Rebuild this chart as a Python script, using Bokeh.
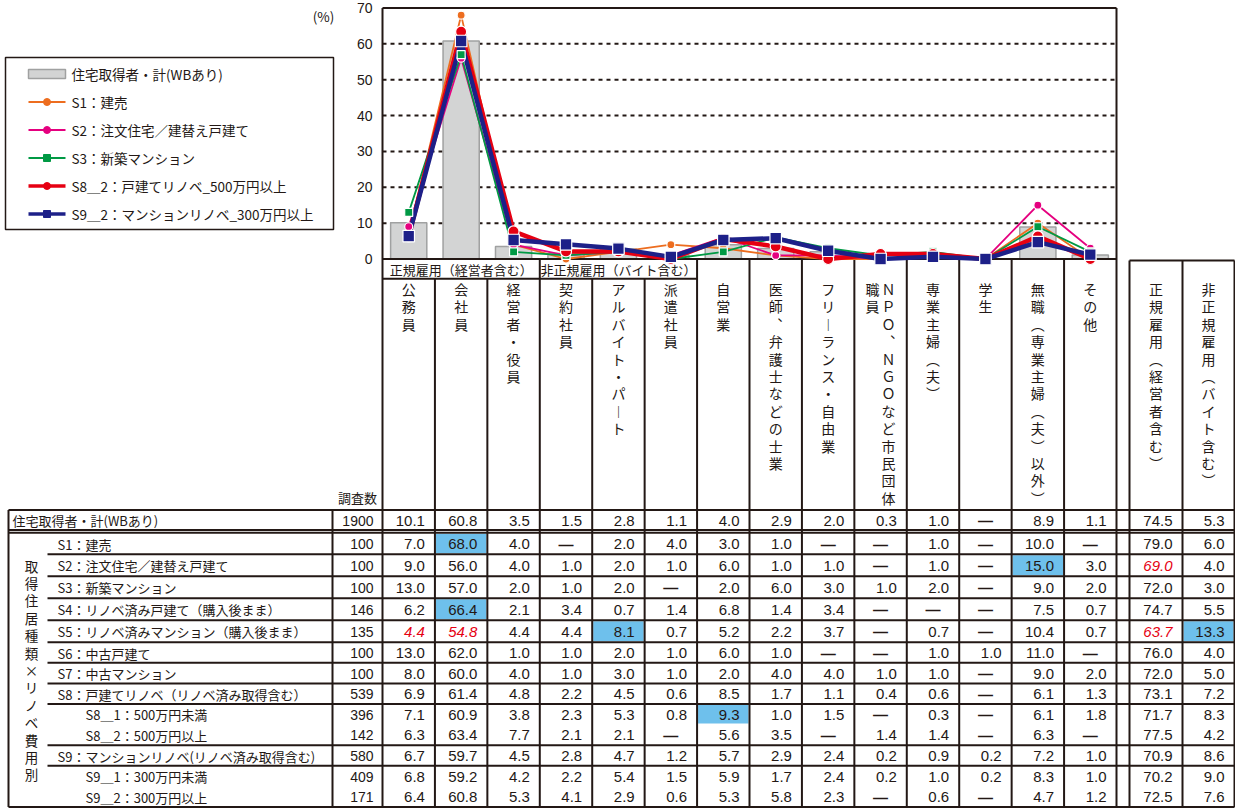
from bokeh.plotting import figure
from bokeh.models import Range1d
from bokeh.core.properties import value
from bokeh.embed import file_html
from bokeh.resources import INLINE

# ---------------------------------------------------------------- data
categories = ["公務員", "会社員", "経営者・役員", "契約社員", "アルバイト・パート", "派遣社員",
              "自営業", "医師、弁護士などの士業", "フリーランス・自由業", "NPO、NGOなど市民団体職員",
              "専業主婦(夫)", "学生", "無職(専業主婦(夫)以外)", "その他"]
summary_cols = ["正規雇用(経営者含む)", "非正規雇用(バイト含む)"]

# header captions written top-to-bottom (vertical presentation forms)
header_vertical = [["公務員"], ["会社員"], ["経営者・役員"], ["契約社員"], ["アルバイト・パ︱ト"],
                   ["派遣社員"], ["自営業"], ["医師︑弁護士などの士業"], ["フリ︱ランス・自由業"],
                   ["ＮＰＯ︑ＮＧＯなど市民団体", "職員"], ["専業主婦︵夫︶"], ["学生"],
                   ["無職︵専業主婦︵夫︶以外︶"], ["その他"],
                   ["正規雇用︵経営者含む︶"], ["非正規雇用︵バイト含む︶"]]

row_labels = ["住宅取得者・計(WBあり)", "S1：建売", "S2：注文住宅／建替え戸建て", "S3：新築マンション",
              "S4：リノベ済み戸建て（購入後まま）", "S5：リノベ済みマンション（購入後まま）",
              "S6：中古戸建て", "S7：中古マンション", "S8：戸建てリノベ（リノベ済み取得含む）",
              "S8＿1：500万円未満", "S8＿2：500万円以上", "S9：マンションリノベ(リノベ済み取得含む)",
              "S9＿1：300万円未満", "S9＿2：300万円以上"]
row_indent = [False, False, False, False, False, False, False, False, False, True, True, False, True, True]
n_counts = [1900, 100, 100, 100, 146, 135, 100, 100, 539, 396, 142, 580, 409, 171]

# None = "—" (no respondents); last two values are the summary columns
total = [10.1, 60.8, 3.5, 1.5, 2.8, 1.1, 4.0, 2.9, 2.0, 0.3, 1.0, None, 8.9, 1.1, 74.5, 5.3]
s1 = [7.0, 68.0, 4.0, None, 2.0, 4.0, 3.0, 1.0, None, None, 1.0, None, 10.0, None, 79.0, 6.0]
s2 = [9.0, 56.0, 4.0, 1.0, 2.0, 1.0, 6.0, 1.0, 1.0, None, 1.0, None, 15.0, 3.0, 69.0, 4.0]
s3 = [13.0, 57.0, 2.0, 1.0, 2.0, None, 2.0, 6.0, 3.0, 1.0, 2.0, None, 9.0, 2.0, 72.0, 3.0]
s4 = [6.2, 66.4, 2.1, 3.4, 0.7, 1.4, 6.8, 1.4, 3.4, None, None, None, 7.5, 0.7, 74.7, 5.5]
s5 = [4.4, 54.8, 4.4, 4.4, 8.1, 0.7, 5.2, 2.2, 3.7, None, 0.7, None, 10.4, 0.7, 63.7, 13.3]
s6 = [13.0, 62.0, 1.0, 1.0, 2.0, 1.0, 6.0, 1.0, None, None, 1.0, 1.0, 11.0, None, 76.0, 4.0]
s7 = [8.0, 60.0, 4.0, 1.0, 3.0, 1.0, 2.0, 4.0, 4.0, 1.0, 1.0, None, 9.0, 2.0, 72.0, 5.0]
s8 = [6.9, 61.4, 4.8, 2.2, 4.5, 0.6, 8.5, 1.7, 1.1, 0.4, 0.6, None, 6.1, 1.3, 73.1, 7.2]
s8_1 = [7.1, 60.9, 3.8, 2.3, 5.3, 0.8, 9.3, 1.0, 1.5, None, 0.3, None, 6.1, 1.8, 71.7, 8.3]
s8_2 = [6.3, 63.4, 7.7, 2.1, 2.1, None, 5.6, 3.5, None, 1.4, 1.4, None, 6.3, None, 77.5, 4.2]
s9 = [6.7, 59.7, 4.5, 2.8, 4.7, 1.2, 5.7, 2.9, 2.4, 0.2, 0.9, 0.2, 7.2, 1.0, 70.9, 8.6]
s9_1 = [6.8, 59.2, 4.2, 2.2, 5.4, 1.5, 5.9, 1.7, 2.4, 0.2, 1.0, 0.2, 8.3, 1.0, 70.2, 9.0]
s9_2 = [6.4, 60.8, 5.3, 4.1, 2.9, 0.6, 5.3, 5.8, 2.3, None, 0.6, None, 4.7, 1.2, 72.5, 7.6]

# (row, column) cells: shaded cells and cells printed in red italics
highlight_cells = [(1, 1), (4, 1), (5, 4), (9, 6), (2, 12), (5, 15)]
red_cells = [(5, 0), (5, 1), (2, 14), (5, 14)]

y_ticks = [0, 10, 20, 30, 40, 50, 60, 70]

# -------------------------------------------------------------- styling
INK = "#231815"
JP = "Noto Sans CJK JP"
NUM = "'Liberation Sans Narrow', 'Liberation Sans', Arial, sans-serif"
BLUE_CELL = "#6ec0ec"
RED_TXT = "#e60012"

series = [  # label, values, colour, line width, marker, marker size
    ("S1：建売", s1, "#ed6d1f", 1.8, "circle", 8),
    ("S2：注文住宅／建替え戸建て", s2, "#e5007f", 1.8, "circle", 8),
    ("S3：新築マンション", s3, "#009944", 1.8, "square", 8),
    ("S8＿2：戸建てリノベ_500万円以上", s8_2, "#e60012", 4.5, "circle", 11),
    ("S9＿2：マンションリノベ_300万円以上", s9_2, "#1d2088", 4.5, "square", 11.5),
]
bar_label = "住宅取得者・計(WBあり)"

# ---------------------------------------------------------------- layout
PW, PH = 1235, 808
X0, X1 = 382.0, 1116.0            # plot area / table body left & right
Y_ZERO, Y_TOP = 258.5, 7.5        # pixel rows of 0 % and 70 %
NC = len(categories)
CW = (X1 - X0) / NC
KPX = (Y_ZERO - Y_TOP) / 70.0
SUM_EDGES = [1129.0, 1182.0, 1234.0]
N_LEFT, N_RIGHT = 332.0, X0
TOTAL_TOP, TOTAL_BOT, DOUBLE2 = 509.5, 529.5, 532.3
s_row_heights = [21.4, 22, 22, 22, 22, 20.6, 20.6, 20.6, 20.6, 20.6, 20.6, 20.6, 20.6]
no_line_after = [9, 12]           # sub-rows sharing one block (S8_1/S8_2, S9_1/S9_2)

p = figure(width=PW, height=PH, min_border=0, toolbar_location=None, output_backend="svg",
           x_range=Range1d(0, PW), y_range=Range1d(PH, 0), x_axis_type=None, y_axis_type=None)
p.outline_line_color = None
p.background_fill_color = "white"
p.border_fill_color = "white"
p.extra_x_ranges = {"col": Range1d(-X0 / CW, (PW - X0) / CW)}
p.extra_y_ranges = {"pct": Range1d(-(PH - Y_ZERO) / KPX, Y_ZERO / KPX)}


def col_edges(c):
    if c < NC:
        return X0 + c * CW, X0 + (c + 1) * CW
    return SUM_EDGES[c - NC], SUM_EDGES[c - NC + 1]


row_tops = [TOTAL_TOP]
row_bots = [TOTAL_BOT]
y = DOUBLE2
for h in s_row_heights:
    row_tops.append(y)
    row_bots.append(y + h)
    y += h
TABLE_BOT = row_bots[-1]

# ------------------------------------------------------- shaded cells
hl = [(col_edges(c), (row_tops[r], row_bots[r])) for r, c in highlight_cells]
p.quad(left=[e[0][0] + 1 for e in hl], right=[e[0][1] - 1 for e in hl],
       top=[e[1][0] + 1 for e in hl], bottom=[e[1][1] - 1 for e in hl],
       fill_color=BLUE_CELL, line_color=None)

# ------------------------------------------------------------- chart
grid_vals = y_ticks[1:-1]
p.segment(x0=[X0] * len(grid_vals), x1=[X1] * len(grid_vals), y0=grid_vals, y1=grid_vals,
          y_range_name="pct", line_color=INK, line_width=2, line_dash="4 4")

xs = [i + 0.5 for i in range(NC)]
p.vbar(x=xs, top=[v or 0 for v in total[:NC]], bottom=0, width=0.69,
       x_range_name="col", y_range_name="pct",
       fill_color="#d3d4d4", line_color="#a0a1a1", line_width=1.5)

p.text(x=[372] * len(y_ticks), y=y_ticks, text=[str(t) for t in y_ticks], y_range_name="pct",
       text_align="right", text_baseline="middle", text_font=value(NUM),
       text_font_size="14px", text_color=INK)
p.text(x=[323], y=[15], text=["(%)"], text_align="center", text_baseline="middle",
       text_font=value(JP), text_font_size="13.5px", text_color=INK)

# ------------------------------------------------------------ table lines
hseg = [(X0, X1, Y_ZERO), (X0, X0 + 6 * CW, 278.3), (SUM_EDGES[0], SUM_EDGES[-1], 260),
        (8, SUM_EDGES[-1], TOTAL_TOP), (8, SUM_EDGES[-1], TOTAL_BOT), (8, SUM_EDGES[-1], DOUBLE2),
        (8, SUM_EDGES[-1], TABLE_BOT), (X0, X1, Y_TOP)]
for r in range(1, len(row_bots) - 1):
    if r not in no_line_after:
        hseg.append((47, SUM_EDGES[-1], row_bots[r]))
p.segment(x0=[h[0] for h in hseg], x1=[h[1] for h in hseg], y0=[h[2] for h in hseg],
          y1=[h[2] for h in hseg], line_color=INK, line_width=2)

vseg = [(X0, Y_TOP, TABLE_BOT), (X1, Y_TOP, TABLE_BOT), (N_LEFT, TOTAL_TOP, TABLE_BOT),
        (8, TOTAL_TOP, TABLE_BOT)]
for i in range(1, NC):
    top = 278.3 if i in (1, 2, 4, 5) else Y_ZERO
    vseg.append((X0 + i * CW, top, TABLE_BOT))
for e in SUM_EDGES:
    vseg.append((e, 260, TABLE_BOT))
p.segment(x0=[v[0] for v in vseg], x1=[v[0] for v in vseg], y0=[v[1] for v in vseg],
          y1=[v[2] for v in vseg], line_color=INK, line_width=2)

# ------------------------------------------------------------ series
for label, vals, color, lw, marker, size in series:
    yv = [v or 0 for v in vals[:NC]]
    p.line(x=xs, y=yv, x_range_name="col", y_range_name="pct", line_color=color, line_width=lw)
for label, vals, color, lw, marker, size in series:
    yv = [v or 0 for v in vals[:NC]]
    p.scatter(x=xs, y=yv, x_range_name="col", y_range_name="pct", marker=marker, size=size,
              fill_color=color, line_color="white", line_width=1.2)

# ------------------------------------------------------------ legend
LX0, LX1, LY0, LY1 = 5, 333, 57, 229
p.quad(left=[LX0], right=[LX1], top=[LY0], bottom=[LY1], fill_color="white",
       line_color=INK, line_width=1.5)
leg_y = [73.5 + 28 * i for i in range(len(series) + 1)]
p.quad(left=[28], right=[65], top=[leg_y[0] - 4.5], bottom=[leg_y[0] + 4.5],
       fill_color="#d3d4d4", line_color="#a0a1a1", line_width=1.5)
for (label, vals, color, lw, marker, size), ly in zip(series, leg_y[1:]):
    p.segment(x0=[28], x1=[65], y0=[ly], y1=[ly], line_color=color, line_width=min(lw, 3.5))
    p.scatter(x=[46.5], y=[ly], marker=marker, size=7, fill_color=color, line_color=color)
p.text(x=[71] * len(leg_y), y=leg_y, text=[bar_label] + [s[0] for s in series],
       text_align="left", text_baseline="middle", text_font=value(JP),
       text_font_size="13.5px", text_color=INK)

# ------------------------------------------------------------ header texts
hx, hy, ht = [], [], []
for c, parts in enumerate(header_vertical):
    l, r = col_edges(c)
    cx = (l + r) / 2
    for j, part in enumerate(parts):
        off = 0 if len(parts) == 1 else (8 if j == 0 else -8)
        for k, ch in enumerate(part):
            hx.append(cx + off)
            hy.append(288.5 + 17.4 * k)
            ht.append(ch)
p.text(x=hx, y=hy, text=ht, text_align="center", text_baseline="middle", text_font=value(JP),
       text_font_size="14px", text_color=INK)

p.text(x=[X0 + 1.5 * CW, X0 + 4.5 * CW], y=[268.5, 268.5],
       text=["正規雇用（経営者含む）", "非正規雇用（バイト含む）"], text_align="center",
       text_baseline="middle", text_font=value(JP), text_font_size="13px", text_color=INK)
p.text(x=[(N_LEFT + N_RIGHT) / 2], y=[497], text=["調査数"], text_align="center",
       text_baseline="middle", text_font=value(JP), text_font_size="13px", text_color=INK)

side = "取得住居種類×リノベ費用別"
side_mid = (DOUBLE2 + TABLE_BOT) / 2
p.text(x=[31] * len(side), y=[side_mid + 17.4 * (k - (len(side) - 1) / 2) for k in range(len(side))],
       text=list(side), text_align="center", text_baseline="middle", text_font=value(JP),
       text_font_size="13.5px", text_color=INK)

# ------------------------------------------------------------ table texts
row_vals = [total, s1, s2, s3, s4, s5, s6, s7, s8, s8_1, s8_2, s9, s9_1, s9_2]
row_mid = [(t + b) / 2 + 0.5 for t, b in zip(row_tops, row_bots)]

p.text(x=[12 if r == 0 else (85 if row_indent[r] else 57) for r in range(len(row_labels))],
       y=row_mid, text=row_labels, text_align="left", text_baseline="middle",
       text_font=value(JP), text_font_size="13px", text_color=INK)
p.text(x=[N_RIGHT - 9] * len(n_counts), y=row_mid, text=[str(n) for n in n_counts],
       text_align="right", text_baseline="middle", text_font=value(NUM),
       text_font_size="14px", text_color=INK)

num = {"x": [], "y": [], "t": []}
red = {"x": [], "y": [], "t": []}
dash = {"x": [], "y": []}
for r, vals in enumerate(row_vals):
    for c, v in enumerate(vals):
        l, rr = col_edges(c)
        if v is None:
            dash["x"].append((l + rr) / 2)
            dash["y"].append(row_mid[r])
            continue
        tgt = red if (r, c) in red_cells else num
        tgt["x"].append(rr - 10)
        tgt["y"].append(row_mid[r])
        tgt["t"].append(f"{v:.1f}")
p.text(x=num["x"], y=num["y"], text=num["t"], text_align="right", text_baseline="middle",
       text_font=value(NUM), text_font_size="15px", text_color=INK)
p.text(x=red["x"], y=red["y"], text=red["t"], text_align="right", text_baseline="middle",
       text_font=value(NUM), text_font_size="15px", text_font_style="italic", text_color=RED_TXT)
p.text(x=dash["x"], y=dash["y"], text=["—"] * len(dash["x"]), text_align="center",
       text_baseline="middle", text_font=value(NUM), text_font_size="15px",
       text_font_style="bold", text_color=INK)

open("out.html", "w").write(file_html(p, INLINE))
